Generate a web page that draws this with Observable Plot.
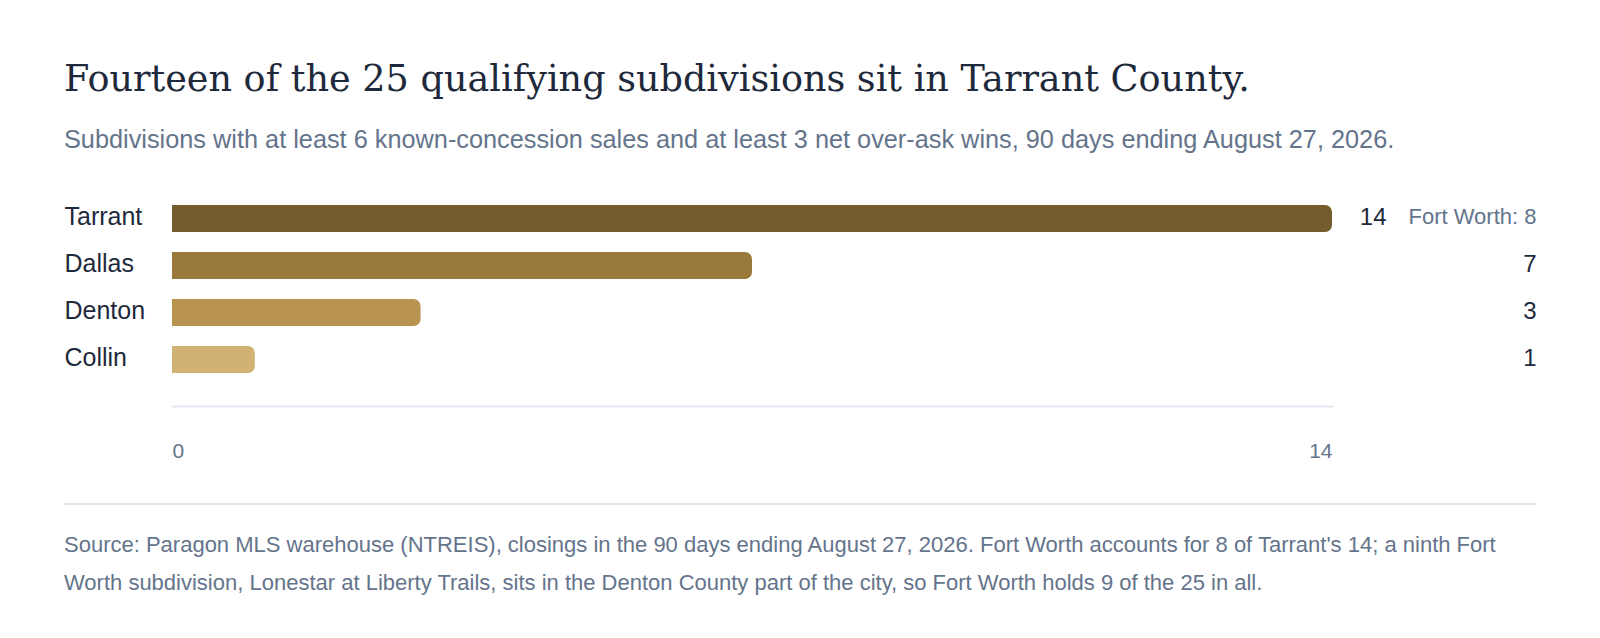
<!DOCTYPE html>
<html>
<head>
<meta charset="utf-8">
<script src="https://cdn.jsdelivr.net/npm/d3@7"></script>
<script src="https://cdn.jsdelivr.net/npm/@observablehq/plot@0.6"></script>
<style>
  html, body { margin: 0; background: #ffffff; }
  body { font-family: "Liberation Sans", Arial, sans-serif; }
  .wrap { padding: 56px 64px 0 64px; width: 1472px; }
  h1 { margin: 0; font-family: "DejaVu Serif", Georgia, serif; font-weight: 400; font-size: 36.6px; line-height: 45px; color: #1e293b; }
  .sub { margin: 22px 0 0 0; font-size: 25.3px; line-height: 32px; color: #64748b; }
  #chart { margin-top: 20px; height: 300px; }
  #chart svg { display: block; overflow: visible; }
  hr { border: 0; border-top: 2px solid #e2e8f0; margin: 28px 0 0 0; }
  .cap { margin: 21px 0 0 0; font-size: 22px; line-height: 37.5px; color: #64748b; }
</style>
</head>
<body>
<div class="wrap">
  <h1>Fourteen of the 25 qualifying subdivisions sit in Tarrant County.</h1>
  <p class="sub">Subdivisions with at least 6 known-concession sales and at least 3 net over-ask wins, 90 days ending August 27, 2026.</p>
  <div id="chart"></div>
  <hr>
  <p class="cap">Source: Paragon MLS warehouse (NTREIS), closings in the 90 days ending August 27, 2026. Fort Worth accounts for 8 of Tarrant's 14; a ninth Fort Worth subdivision, Lonestar at Liberty Trails, sits in the Denton County part of the city, so Fort Worth holds 9 of the 25 in all.</p>
</div>
<script>
const counties = ["Tarrant", "Dallas", "Denton", "Collin"];
const counts = [14, 7, 3, 1];
const notes = ["Fort Worth: 8", "", "", ""];
const barColors = ["#745c2c", "#9a7a3a", "#b99450", "#d0b272"];
const xTicks = [0, 14];

const rows = counties.map((c, i) => ({county: c, count: counts[i], note: notes[i], color: barColors[i]}));
const withNote = rows.filter(d => d.note);
const withoutNote = rows.filter(d => !d.note);

const W = 1472, H = 300, ML = 108, MR = 204, MT = 8, MB = 69;

const chart = Plot.plot({
  width: W,
  height: H,
  marginLeft: ML,
  marginRight: MR,
  marginTop: MT,
  marginBottom: MB,
  insetBottom: 11,
  style: {fontFamily: "'Liberation Sans', Arial, sans-serif", background: "transparent"},
  x: {domain: [0, 14], axis: null},
  y: {domain: counties, padding: 0.4167, axis: null},
  marks: [
    Plot.frame({anchor: "bottom", stroke: "#e2e8f0", strokeWidth: 2}),
    Plot.barX(rows, {x: "count", y: "county", fill: "color", rx2: 7}),
    Plot.text(rows, {y: "county", text: "county", frameAnchor: "left", textAnchor: "start", dx: -ML, dy: -2, fontSize: 25, fill: "#1e293b"}),
    Plot.text(withoutNote, {y: "county", text: d => String(d.count), frameAnchor: "right", textAnchor: "end", dx: MR, dy: -2, fontSize: 24, fill: "#1e293b"}),
    Plot.text(withNote, {y: "county", text: d => String(d.count), frameAnchor: "right", textAnchor: "end", dx: MR - 150, dy: -2, fontSize: 24, fill: "#1e293b"}),
    Plot.text(withNote, {y: "county", text: "note", frameAnchor: "right", textAnchor: "end", dx: MR, dy: -2, fontSize: 22, fill: "#64748b"}),
    Plot.text(xTicks.slice(0, 1), {x: d => d, text: d => String(d), frameAnchor: "bottom", textAnchor: "start", dy: 51, fontSize: 21, fill: "#64748b"}),
    Plot.text(xTicks.slice(1), {x: d => d, text: d => String(d), frameAnchor: "bottom", textAnchor: "end", dy: 51, fontSize: 21, fill: "#64748b"})
  ]
});
document.getElementById("chart").appendChild(chart);
</script>
</body>
</html>
